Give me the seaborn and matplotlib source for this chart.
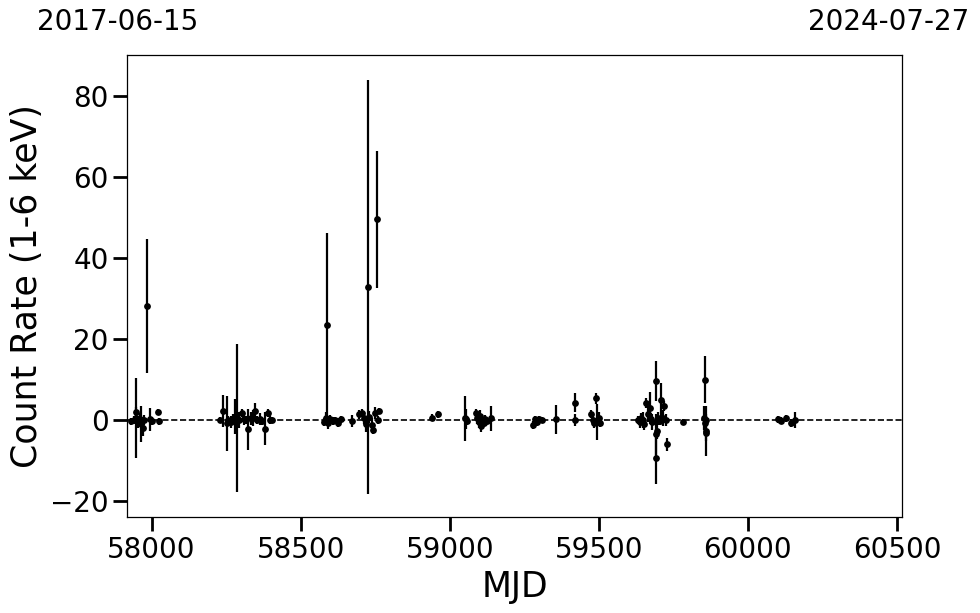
import numpy as np
import pandas as pd
import matplotlib
matplotlib.use("Agg")
import matplotlib.pyplot as plt
import seaborn as sns

# ---- data ----
mjd = [
    57931, 57940, 57947, 57949, 57955, 57960, 57966, 57971, 57975, 57986, 57995, 58000, 58023, 58025,
    58230, 58241, 58252, 58258, 58265, 58272, 58280, 58286, 58292, 58302, 58310, 58318, 58325, 58333,
    58340, 58347, 58355, 58364, 58372, 58380, 58392, 58398, 58404,
    58580, 58585, 58588, 58593, 58600, 58607, 58615, 58625, 58635, 58671,
    58695, 58705, 58712, 58718, 58725, 58730, 58738, 58743, 58750, 58756, 58760, 58764,
    58939, 58961, 59050, 59054, 59058, 59088, 59093, 59097, 59102, 59106, 59110, 59115, 59120, 59125, 59137,
    59279, 59285, 59292, 59300, 59310, 59355, 59419, 59420, 59475, 59480, 59485, 59490, 59494, 59500, 59503,
    59632, 59637, 59642, 59648, 59653, 59660, 59665, 59671, 59676, 59680, 59691, 59692, 59693, 59695,
    59700, 59705, 59710, 59714, 59720, 59724, 59729, 59782,
    59852, 59855, 59857, 59858, 59860, 59861,
    60101, 60107, 60112, 60129, 60146, 60157,
]
rate = [
    -0.3, 0.0, 0.5, 2.0, -0.5, 0.2, -1.0, -1.9, 0.0, 28.1, 0.2, -0.2, 2.0, -0.3,
    0.0, 2.2, -0.8, 0.0, -0.4, 0.3, 0.8, 0.5, 0.0, 1.8, 0.2, 0.0, -2.3, 0.4,
    0.6, 2.2, 0.0, 0.3, -0.2, -2.1, 1.8, 0.0, 0.0,
    -0.5, 0.5, 23.4, -0.8, 0.3, -0.3, 0.0, -0.6, 0.2, -0.2,
    1.4, 1.8, 0.5, -1.0, 32.8, 0.8, -1.1, -2.5, 1.8, 49.6, 0.0, 2.2,
    0.6, 1.4, 0.4, 0.2, -0.3, 1.8, 0.5, -0.5, 1.0, -1.5, 0.0, -0.8, 0.3, -0.2, 0.4,
    -1.1, 0.3, -0.5, 0.2, 0.0, 0.2, 4.3, 0.0, 1.4, 0.0, -0.8, 5.4, -0.5, 0.5, -0.6,
    0.0, -0.5, 0.6, 0.0, -1.0, 4.3, 1.5, 3.0, 0.3, -0.5, 9.6, -3.5, -9.3, -2.6,
    0.4, -0.3, 4.9, 0.5, 3.5, 0.0, -6.0, -0.5,
    0.5, 10.0, -0.7, -2.7, -3.2, 0.0,
    0.2, 0.0, -0.1, 0.4, -0.7, 0.0,
]
rate_err = [
    0.8, 1.0, 9.9, 1.2, 1.5, 1.5, 4.5, 2.0, 1.2, 16.5, 2.8, 1.0, 0.8, 0.8,
    0.8, 4.0, 6.8, 1.0, 1.5, 1.2, 4.3, 18.2, 2.0, 1.0, 1.5, 1.0, 5.0, 1.5,
    2.0, 2.0, 1.0, 1.5, 1.0, 4.0, 1.0, 1.0, 0.8,
    1.0, 1.5, 22.8, 1.5, 1.0, 1.0, 0.8, 1.0, 0.8, 1.5,
    1.2, 1.0, 1.5, 2.0, 51.0, 1.5, 1.5, 1.0, 1.5, 16.9, 1.0, 0.8,
    0.8, 0.8, 5.5, 2.5, 1.0, 1.0, 1.5, 1.5, 1.5, 1.5, 1.2, 1.0, 1.0, 0.8, 3.1,
    1.0, 0.8, 1.0, 0.8, 0.8, 3.6, 2.4, 1.5, 1.0, 1.2, 1.2, 1.4, 4.5, 1.5, 1.0,
    1.0, 1.5, 1.2, 2.0, 1.5, 1.2, 2.0, 4.0, 1.5, 2.0, 5.0, 5.0, 6.4, 2.0,
    1.5, 1.0, 4.2, 2.0, 1.2, 1.5, 1.6, 0.8,
    3.0, 5.8, 2.5, 6.2, 2.0, 1.5,
    0.8, 0.8, 0.8, 0.8, 1.0, 2.0,
]
x_ticks = [58000, 58500, 59000, 59500, 60000, 60500]
y_ticks = [-20, 0, 20, 40, 60, 80]
start_label = "2017-06-15"
end_label = "2024-07-27"
x_range = (57919, 60518)
y_range = (-24, 90)

df = pd.DataFrame({"MJD": mjd, "rate": rate, "err": rate_err})

sns.set_theme(style="ticks")
plt.rcParams["font.family"] = ["DejaVu Sans"]
plt.rcParams["text.color"] = "black"
plt.rcParams["axes.labelcolor"] = "black"
plt.rcParams["xtick.color"] = "black"
plt.rcParams["ytick.color"] = "black"

fig = plt.figure(figsize=(9.8, 6.13), dpi=100)
ax = fig.add_axes([0.13, 0.156, 0.7907, 0.7537])

ax.errorbar(df["MJD"], df["rate"], yerr=df["err"], fmt="none",
            ecolor="black", elinewidth=1.6, capsize=0, zorder=2)
sns.scatterplot(data=df, x="MJD", y="rate", ax=ax, color="black",
                s=24, edgecolor="black", linewidth=0, zorder=3, legend=False)
ax.axhline(0, color="black", linestyle="--", linewidth=1.2, zorder=1)

ax.set_xlim(*x_range)
ax.set_ylim(*y_range)
ax.set_xticks(x_ticks)
ax.set_yticks(y_ticks)
ax.set_xlabel("MJD", fontsize=25, color="black")
ax.set_ylabel("Count Rate (1-6 keV)", fontsize=25, color="black")
ax.tick_params(axis="both", which="major", labelsize=20, length=10, width=2,
               direction="out", color="black", labelcolor="black")
for sp in ax.spines.values():
    sp.set_visible(True)
    sp.set_color("black")
    sp.set_linewidth(0.9)

fig.text(118 / 980, 1 - 22 / 613, start_label, ha="center", va="center",
         fontsize=20, color="black")
fig.text(889 / 980, 1 - 22 / 613, end_label, ha="center", va="center",
         fontsize=20, color="black")

fig.savefig("out.png", dpi=100)
